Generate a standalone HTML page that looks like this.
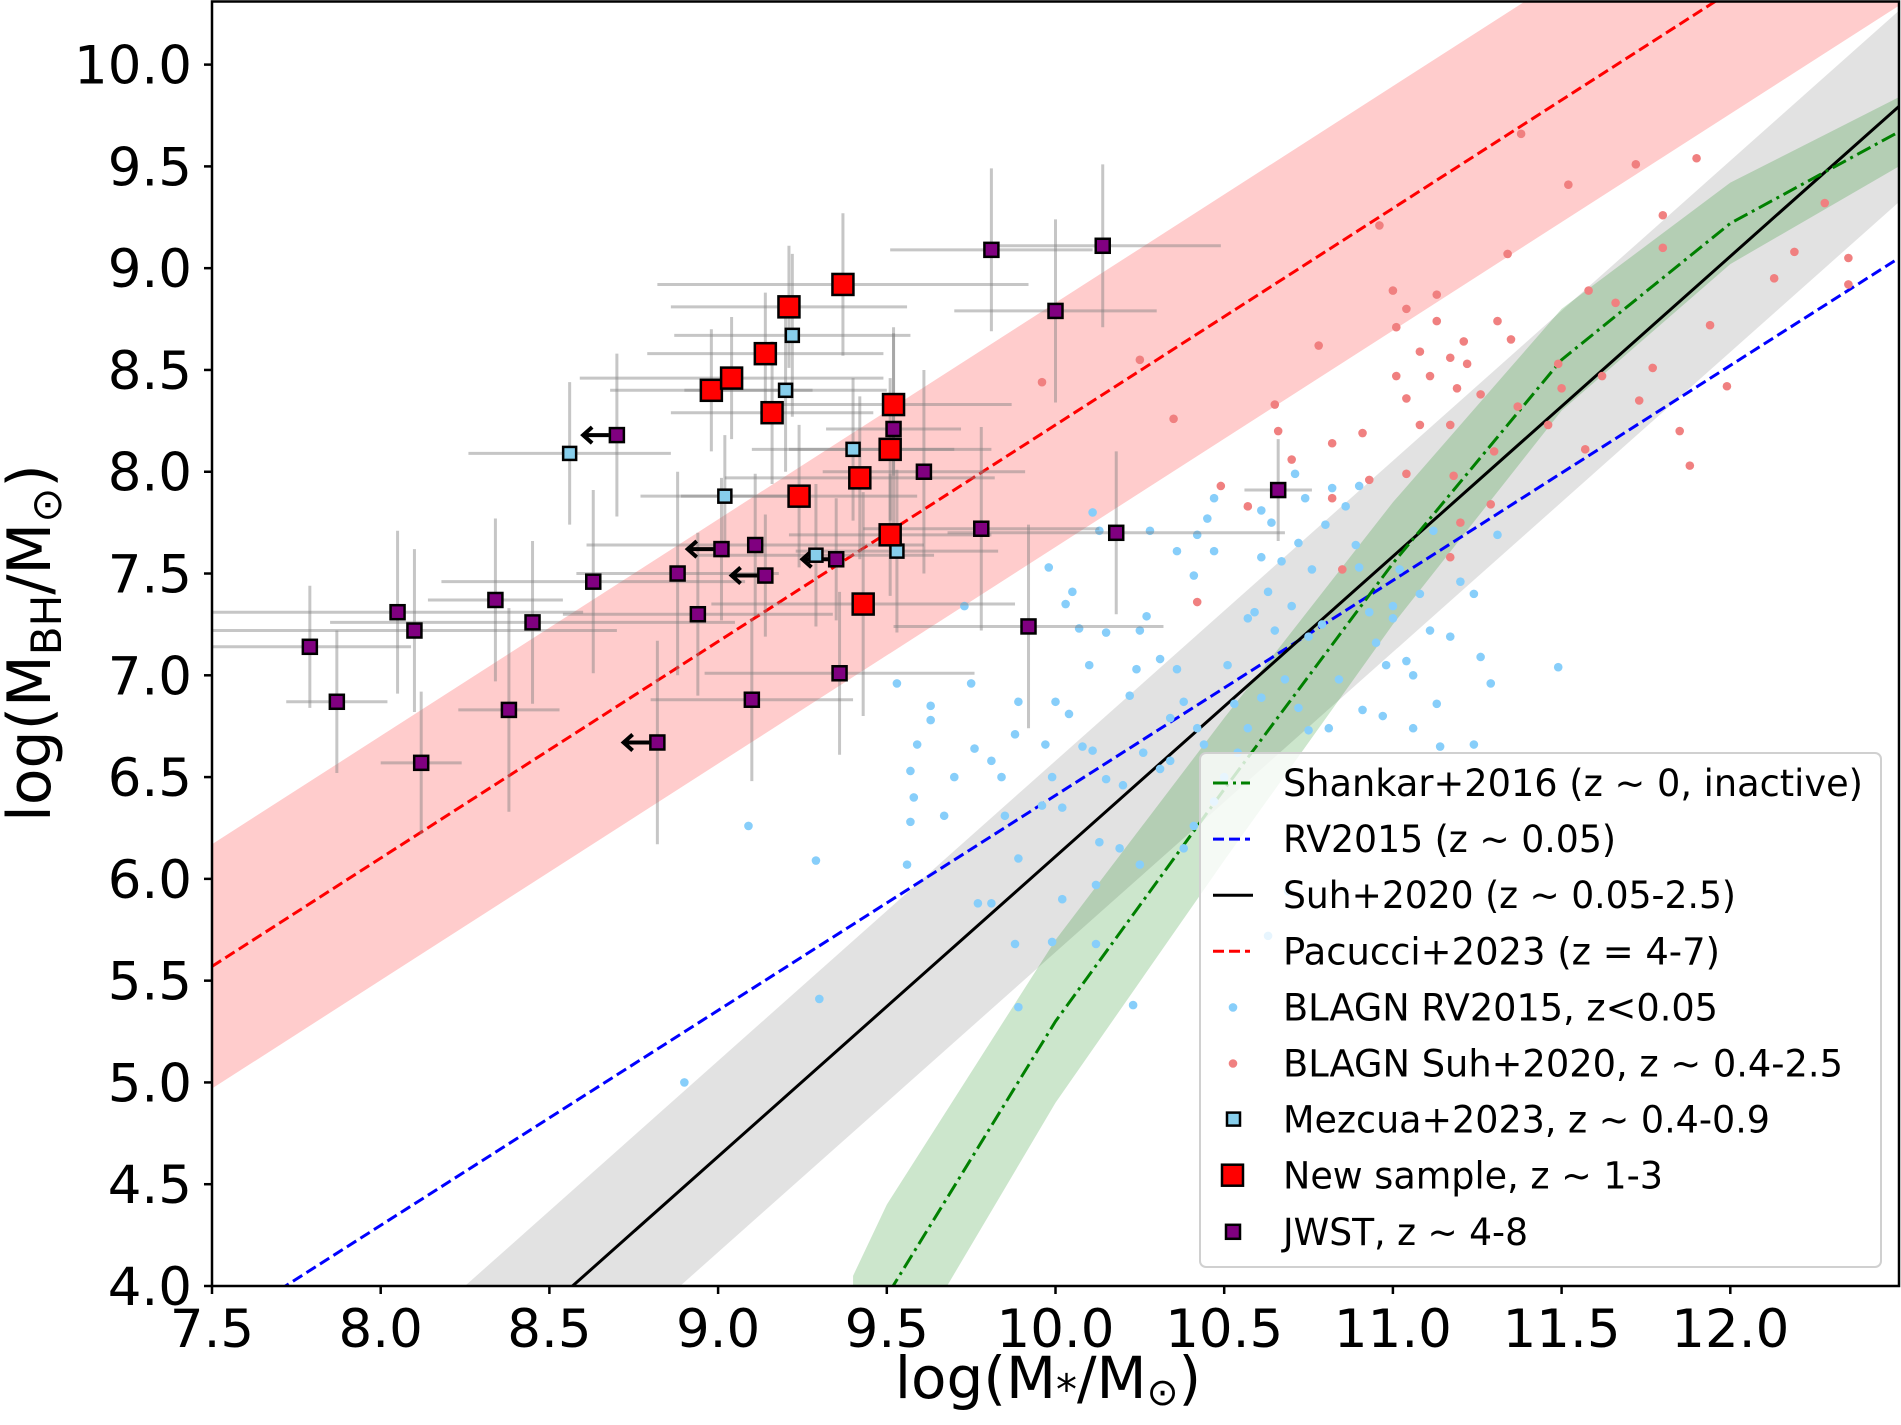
<!DOCTYPE html>
<html><head><meta charset="utf-8">
<style>
html,body{margin:0;padding:0;background:#fff;overflow:hidden;width:1901px;height:1425px;}
svg{display:block;font-family:"DejaVu Sans","Liberation Sans",sans-serif;}
</style></head>
<body>
<svg id="chart" width="1901" height="1425" viewBox="0 0 1901 1425" xmlns="http://www.w3.org/2000/svg">
<defs><clipPath id="plotclip"><rect x="212" y="1.5" width="1687" height="1284.5"/></clipPath></defs>
<g id="plot" clip-path="url(#plotclip)"></g>
<g id="axes"></g>
<g id="legend"></g>
<text x="1048" y="1398" text-anchor="middle" font-size="58">log(M<tspan font-size="42" dy="6">*</tspan><tspan dy="-6">/M</tspan><tspan font-size="38" dy="7">⊙</tspan><tspan dy="-7">)</tspan></text>
<text transform="translate(50,643) rotate(-90)" text-anchor="middle" font-size="60">log(M<tspan font-size="42" dy="11">BH</tspan><tspan dy="-11">/M</tspan><tspan font-size="42" dy="11">⊙</tspan><tspan dy="-11">)</tspan></text>
</svg>
<script>
// ---- data ----
const xTicks = [7.5,8.0,8.5,9.0,9.5,10.0,10.5,11.0,11.5,12.0];
const yTicks = [4.0,4.5,5.0,5.5,6.0,6.5,7.0,7.5,8.0,8.5,9.0,9.5,10.0];
const pacucciSlope = 1.064, pacucciIntercept = -2.41, pacucciScatter = 0.6;
const suhSlope = 1.474, suhIntercept = -8.63, suhScatter = 0.47;
const rvSlope = 1.056, rvIntercept = -4.15;
const shankarX = [9.4,9.5,10.0,10.5,11.0,11.5,12.0,12.5];
const shankarY = [3.6,3.95,5.3,6.44,7.55,8.55,9.22,9.67];
const shankarErr = [0.45,0.45,0.4,0.35,0.3,0.25,0.2,0.17];
const blueX = [8.90,9.30,9.09,9.29,9.53,9.63,9.63,9.59,9.57,9.58,9.57,9.56,9.67,9.70,9.75,9.76,9.73,9.81,9.84,9.85,9.88,9.89,9.77,9.81,9.89,9.88,9.96,9.97,9.98,10.03,10.05,10.07,10.10,10.11,10.13,10.15,10.22,10.24,10.25,10.28,10.27,10.31,10.34,10.36,10.42,10.45,10.47,10.41,10.47,10.36,10.38,10.42,10.44,10.34,10.26,10.31,10.20,10.15,10.11,10.08,10.04,10.00,9.99,10.02,10.13,10.19,10.25,10.12,10.02,9.99,9.89,10.12,10.23,10.63,10.69,10.71,10.64,10.61,10.59,10.51,10.53,10.57,10.63,10.65,10.67,10.70,10.72,10.76,10.79,10.75,10.80,10.82,10.86,10.90,10.89,10.90,10.93,10.95,10.98,11.00,11.02,11.04,11.06,11.11,11.13,11.14,11.24,11.24,11.26,11.29,11.31,11.06,10.97,10.91,10.84,10.81,10.75,10.72,10.68,10.61,10.57,10.54,10.50,10.41,10.38,10.47,11.49,11.12,11.20,11.17,11.00,11.08,10.74,10.61];
const blueY = [5.00,5.41,6.26,6.09,6.96,6.85,6.78,6.66,6.53,6.40,6.28,6.07,6.31,6.50,6.96,6.64,7.34,6.58,6.50,6.31,6.71,6.87,5.88,5.88,6.10,5.68,6.36,6.66,7.53,7.35,7.41,7.23,7.05,7.80,7.71,7.21,6.90,7.03,7.22,7.71,7.29,7.08,6.79,7.61,7.69,7.77,7.87,7.49,7.61,7.03,6.87,6.74,6.66,6.58,6.62,6.54,6.46,6.49,6.63,6.65,6.81,6.87,6.50,6.35,6.18,6.15,6.07,5.97,5.90,5.69,5.37,5.68,5.38,5.72,5.94,7.99,7.75,7.58,7.31,7.05,6.86,7.28,7.41,7.22,7.56,7.34,7.65,7.52,7.25,7.19,7.74,7.92,7.83,7.93,7.64,7.53,7.31,7.16,7.05,7.28,7.52,7.07,7.00,7.22,6.86,6.65,7.40,6.66,7.09,6.96,7.69,6.74,6.80,6.83,6.98,6.74,6.73,6.84,6.98,6.89,6.74,6.62,6.50,6.26,6.15,6.38,7.04,7.71,7.46,7.19,7.34,7.40,7.87,7.81];
const redX = [10.25,9.96,10.35,10.65,10.66,10.70,10.49,10.57,10.42,10.78,10.91,10.96,11.00,11.01,11.04,11.01,11.04,11.13,11.13,11.08,11.11,11.17,11.22,11.19,11.26,11.34,11.38,11.52,11.35,11.31,11.49,11.50,11.58,11.66,11.72,11.80,11.80,11.90,11.94,11.99,11.85,11.88,11.77,11.62,11.73,11.57,11.46,11.37,11.30,11.17,11.18,11.04,10.93,10.82,11.08,12.13,12.28,12.35,12.35,12.19,11.21,11.20,11.29,11.17,10.85,10.82];
const redY = [8.55,8.44,8.26,8.33,8.20,8.06,7.93,7.83,7.36,8.62,8.19,9.21,8.89,8.71,8.80,8.47,8.36,8.87,8.74,8.59,8.47,8.56,8.53,8.41,8.38,9.07,9.66,9.41,8.65,8.74,8.53,8.41,8.89,8.83,9.51,9.26,9.10,9.54,8.72,8.42,8.20,8.03,8.51,8.47,8.35,8.11,8.23,8.32,8.10,8.23,7.98,7.99,7.96,8.14,8.23,8.95,9.32,9.05,8.92,9.08,8.64,7.75,7.84,7.58,7.52,7.87];
const mezX = [8.56,9.02,9.22,9.20,9.40,9.29,9.53];
const mezY = [8.09,7.88,8.67,8.40,8.11,7.59,7.61];
const mezXerr = [0.3,0.25,0.35,0.3,0.3,0.35,0.3];
const mezYerr = [0.35,0.3,0.4,0.4,0.35,0.35,0.4];
const newX = [8.98,9.04,9.14,9.16,9.21,9.37,9.24,9.42,9.51,9.52,9.51,9.43];
const newY = [8.40,8.46,8.58,8.29,8.81,8.92,7.88,7.97,8.11,8.33,7.69,7.35];
const newXerr = [0.3,0.45,0.35,0.3,0.35,0.55,0.35,0.4,0.3,0.35,0.3,0.45];
const newYerr = [0.3,0.3,0.3,0.35,0.3,0.35,0.35,0.4,0.35,0.35,0.3,0.55];
const jwstX = [8.70,7.79,7.87,8.05,8.10,8.12,8.34,8.38,8.45,8.63,8.82,8.88,8.94,9.01,9.11,9.14,9.10,9.35,9.36,9.52,9.61,9.78,9.81,9.92,10.00,10.14,10.18,10.66];
const jwstY = [8.18,7.14,6.87,7.31,7.22,6.57,7.37,6.83,7.26,7.46,6.67,7.50,7.30,7.62,7.64,7.49,6.88,7.57,7.01,8.21,8.00,7.72,9.09,7.24,8.79,9.11,7.70,7.91];
const jwstXerr = [0,0.3,0.15,0.55,0.6,0.12,0.2,0.15,0.6,0.45,0,0.3,0.4,0,0.5,0,0.3,0,0.4,0.2,0.3,0.35,0.3,0.4,0.3,0.35,0.5,0.1];
const jwstYerr = [0.4,0.3,0.35,0.4,0.4,0.35,0.4,0.5,0.4,0.45,0.5,0.5,0.4,0.35,0.35,0.3,0.4,0.3,0.4,0.5,0.5,0.5,0.4,0.5,0.45,0.4,0.4,0.25];
const jwstLimit = [1,0,0,0,0,0,0,0,0,0,1,0,0,1,0,1,0,1,0,0,0,0,0,0,0,0,0,0];

// ---- axes ----
const X0=212, X1=1899, Y0=1286, Y1=1.5, xmin=7.5, xmax=12.5, ymin=4.0, ymax=10.31;
const sx = v => X0 + (v-xmin)/(xmax-xmin)*(X1-X0);
const sy = v => Y0 - (v-ymin)/(ymax-ymin)*(Y0-Y1);
const NS="http://www.w3.org/2000/svg";
function mk(tag, attrs, parent){const e=document.createElementNS(NS,tag);for(const k in attrs)e.setAttribute(k,attrs[k]);parent.appendChild(e);return e;}
const plot=document.getElementById('plot'), axes=document.getElementById('axes'), legend=document.getElementById('legend');

function band(f, lo, hi, fill, name){
  const xs=[7.3,12.7]; let d='M'+xs.map(x=>sx(x)+','+sy(f(x)+hi)).join(' L');
  d+=' L'+xs.slice().reverse().map(x=>sx(x)+','+sy(f(x)-lo)).join(' L')+' Z';
  const p=mk('path',{d:d,fill:fill},plot);
  
  
}
function line(f, stroke, dash, name){
  const p=mk('line',{x1:sx(7.3),y1:sy(f(7.3)),x2:sx(12.7),y2:sy(f(12.7)),stroke:stroke,'stroke-width':3,'stroke-dasharray':dash},plot);
  
  
}
const pac = x=>pacucciIntercept+pacucciSlope*x, suh=x=>suhIntercept+suhSlope*x, rv=x=>rvIntercept+rvSlope*x;
band(pac,pacucciScatter,pacucciScatter,'#ffcccc','pacucci-band');
band(suh,suhScatter,suhScatter,'rgba(140,140,140,0.25)','suh-band');
{
  let d='M'+shankarX.map((x,i)=>sx(x)+','+sy(shankarY[i]+shankarErr[i])).join(' L');
  for(let i=shankarX.length-1;i>=0;i--) d+=' L'+sx(shankarX[i])+','+sy(shankarY[i]-shankarErr[i]);
  const p=mk('path',{d:d+' Z',fill:'rgba(0,128,0,0.2)'},plot);
  
  
}
line(pac,'#ff0000','11 5','pacucci-line');
line(rv,'#0000ff','11 5','rv2015-line');
line(suh,'#000000','','suh-line');
{
  const p=mk('polyline',{points:shankarX.map((x,i)=>sx(x)+','+sy(shankarY[i])).join(' '),fill:'none',stroke:'#008000','stroke-width':3,'stroke-dasharray':'15 5 3 5'},plot);
  
  
}
blueX.forEach((x,i)=>{
  const c=mk('circle',{cx:sx(x),cy:sy(blueY[i]),r:4.3,fill:'#87cefa'},plot);
  
  
});
redX.forEach((x,i)=>{
  const c=mk('circle',{cx:sx(x),cy:sy(redY[i]),r:4.3,fill:'#f08080'},plot);
  
  
});
function errbars(X,Y,XE,YE){
  X.forEach((x,i)=>{
    if(XE[i]>0){const l=mk('line',{x1:sx(x-XE[i]),y1:sy(Y[i]),x2:sx(x+XE[i]),y2:sy(Y[i]),stroke:'rgba(128,128,128,0.45)','stroke-width':3},plot);
      
      }
    const v=mk('line',{x1:sx(x),y1:sy(Y[i]-YE[i]),x2:sx(x),y2:sy(Y[i]+YE[i]),stroke:'rgba(128,128,128,0.45)','stroke-width':3},plot);
    
    
  });
}
errbars(newX,newY,newXerr,newYerr);
errbars(mezX,mezY,mezXerr,mezYerr);
errbars(jwstX,jwstY,jwstXerr,jwstYerr);
function sq(x,y,s,fill,name){
  const r=mk('rect',{x:sx(x)-s/2,y:sy(y)-s/2,width:s,height:s,fill:fill,stroke:'#000','stroke-width':2.5},plot);
  
  
}
jwstX.forEach((x,i)=>{
  if(jwstLimit[i]){
    const x1=sx(x)-8, x2=sx(x-0.1), y=sy(jwstY[i]);
    const a=mk('path',{d:`M${x1},${y} L${x2},${y} M${x2+9},${y-8} L${x2},${y} L${x2+9},${y+8}`,stroke:'#000','stroke-width':4,fill:'none'},plot);
    
    
  }
});
mezX.forEach((x,i)=>sq(x,mezY[i],13,'#87ceeb','mezcua-point'));
newX.forEach((x,i)=>sq(x,newY[i],21,'#ff0000','new-sample-point'));
jwstX.forEach((x,i)=>sq(x,jwstY[i],14,'#800080','jwst-point'));

{
  const f=mk('rect',{x:X0,y:Y1,width:X1-X0,height:Y0-Y1,fill:'none',stroke:'#000','stroke-width':2.5},axes);
  
  
}
xTicks.forEach(v=>{
  mk('line',{x1:sx(v),y1:Y0,x2:sx(v),y2:Y0+8,stroke:'#000','stroke-width':2.5},axes);
  const t=mk('text',{x:sx(v),y:1347,'text-anchor':'middle','font-size':53},axes);
  t.textContent=v.toFixed(1);
  
  
});
yTicks.forEach(v=>{
  mk('line',{x1:X0-8,y1:sy(v),x2:X0,y2:sy(v),stroke:'#000','stroke-width':2.5},axes);
  const t=mk('text',{x:192,y:sy(v)+19,'text-anchor':'end','font-size':53},axes);
  t.textContent=v.toFixed(1);
  
  
});
const legLabels=['Shankar+2016 (z ~ 0, inactive)','RV2015 (z ~ 0.05)','Suh+2020 (z ~ 0.05-2.5)','Pacucci+2023 (z = 4-7)','BLAGN RV2015, z<0.05','BLAGN Suh+2020, z ~ 0.4-2.5','Mezcua+2023, z ~ 0.4-0.9','New sample, z ~ 1-3','JWST, z ~ 4-8'];
const legLens=[580,333,453,437,435,560,487,380,245];
{
  const b=mk('rect',{x:1200,y:753,width:681,height:514,rx:6,fill:'rgba(255,255,255,0.8)',stroke:'#d0d0d0','stroke-width':2},legend);
  
  
}
legLabels.forEach((s,i)=>{
  const y=783+i*56.1;
  const g=mk('g',{},legend);
  
  
  if(i==0) mk('line',{x1:1213,y1:y,x2:1250,y2:y,stroke:'#008000','stroke-width':3,'stroke-dasharray':'15 5 3 5'},g);
  if(i==1) mk('line',{x1:1213,y1:y,x2:1250,y2:y,stroke:'#0000ff','stroke-width':3,'stroke-dasharray':'11 5'},g);
  if(i==2) mk('line',{x1:1213,y1:y,x2:1253,y2:y,stroke:'#000','stroke-width':3},g);
  if(i==3) mk('line',{x1:1213,y1:y,x2:1250,y2:y,stroke:'#ff0000','stroke-width':3,'stroke-dasharray':'11 5'},g);
  if(i==4) mk('circle',{cx:1233,cy:y,r:4.3,fill:'#87cefa'},g);
  if(i==5) mk('circle',{cx:1233,cy:y,r:4.3,fill:'#f08080'},g);
  if(i==6) mk('rect',{x:1227,y:y-7,width:13,height:13,fill:'#87ceeb',stroke:'#000','stroke-width':2.5},g);
  if(i==7) mk('rect',{x:1222,y:y-11,width:21,height:21,fill:'#ff0000',stroke:'#000','stroke-width':2.5},g);
  if(i==8) mk('rect',{x:1226,y:y-7,width:14,height:14,fill:'#800080',stroke:'#000','stroke-width':2.5},g);
  const t=mk('text',{x:1283,y:y+13,'font-size':37,textLength:legLens[i],lengthAdjust:'spacingAndGlyphs'},g);
  t.textContent=s;
});
</script>
</body></html>
